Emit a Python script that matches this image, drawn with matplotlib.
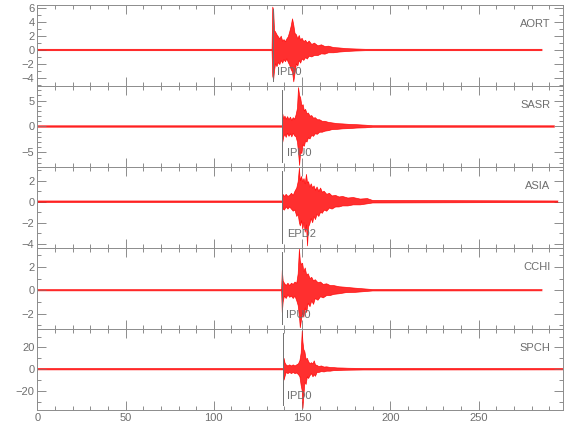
import matplotlib
matplotlib.use("Agg")
import matplotlib.pyplot as plt
from matplotlib.ticker import MultipleLocator

plt.rcParams['font.family'] = ['Liberation Sans', 'DejaVu Sans']

stations = ["AORT", "SASR", "ASIA", "CCHI", "SPCH"]
pick_labels = ["IPD0", "IPU0", "EPD2", "IPU0", "IPD0"]
pick_times = [133.4, 138.9, 138.9, 138.6, 139.2]

# envelope of each trace (time in s, upper and lower amplitude)
aort_t = [0, 133.0, 133.4, 133.9, 134.4, 135.0, 135.8, 136.6, 137.4, 138.2, 139.0, 139.8, 140.6, 141.4, 142.2,
          143.0, 143.8, 144.6, 145.3, 146.0, 146.8, 147.6, 148.4, 149.2, 150.0, 151, 152, 153, 154, 155.5,
          157, 159, 161, 163, 165, 168, 171, 175, 180, 186, 286]
aort_hi = [0.1, 0.1, 6.2, 5.8, 2.8, 2.6, 2.2, 1.9, 1.6, 2.0, 1.3, 1.5, 1.2, 1.6, 1.9,
           2.6, 3.4, 4.5, 3.6, 2.4, 2.2, 1.6, 2.1, 1.4, 1.7, 1.2, 1.4, 1.0, 1.3, 0.8,
           1.0, 0.6, 0.75, 0.5, 0.55, 0.35, 0.3, 0.2, 0.15, 0.1, 0.1]
aort_lo = [-0.1, -0.1, -3.8, -4.3, -3.0, -2.0, -2.4, -1.8, -2.1, -1.5, -1.9, -1.4, -1.7, -1.3, -1.8,
           -2.2, -2.8, -3.2, -4.6, -3.4, -2.0, -2.3, -1.5, -1.9, -1.3, -1.5, -1.1, -1.3, -0.9, -1.0,
           -0.8, -0.8, -0.55, -0.6, -0.4, -0.4, -0.3, -0.22, -0.15, -0.1, -0.1]

sasr_t = [0, 138.8, 139.1, 139.6, 140.3, 141.0, 141.8, 142.6, 143.4, 144.2, 145.0, 145.8, 146.6, 147.4,
          148.0, 148.6, 149.2, 149.9, 150.6, 151.3, 152.0, 152.8, 153.6, 154.5, 155.5, 156.5, 157.5,
          158.7, 160, 161.5, 163, 165, 167, 170, 173, 177, 181, 186, 190, 293]
sasr_hi = [0.13, 0.13, 2.4, 1.5, 2.0, 1.4, 1.9, 1.3, 1.8, 1.2, 1.7, 1.4, 2.2, 3.5,
           7.5, 6.0, 5.5, 4.0, 4.2, 3.0, 3.3, 2.5, 2.6, 2.0, 2.1, 1.6, 1.7,
           1.3, 1.3, 1.0, 1.0, 0.8, 0.7, 0.55, 0.5, 0.4, 0.35, 0.25, 0.15, 0.13]
sasr_lo = [-0.13, -0.13, -3.0, -2.0, -1.5, -2.1, -1.3, -1.9, -1.4, -2.0, -1.3, -1.8, -2.0, -3.0,
           -5.0, -7.5, -5.0, -5.2, -3.5, -3.8, -2.8, -3.0, -2.2, -2.4, -1.7, -1.9, -1.4,
           -1.5, -1.1, -1.1, -0.9, -0.8, -0.6, -0.55, -0.45, -0.4, -0.3, -0.25, -0.15, -0.13]

asia_t = [0, 138.8, 139.2, 140.0, 141.0, 142.0, 143.0, 144.0, 145.0, 146.0, 147.0, 147.8, 148.5, 149.0,
          149.7, 150.4, 151.1, 151.8, 152.5, 153.1, 153.7, 154.4, 155.2, 156.0, 156.8, 157.6, 158.5,
          159.5, 160.5, 161.5, 162.5, 164, 165.5, 167, 169, 171, 173, 176, 179, 183, 187, 190, 295]
asia_hi = [0.07, 0.07, 0.7, 0.5, 0.7, 0.5, 0.6, 0.8, 0.6, 1.0, 1.3, 1.9, 3.2, 2.0,
           2.4, 1.9, 2.2, 1.7, 2.6, 1.8, 1.9, 1.4, 1.7, 1.3, 1.5, 1.1, 1.4,
           1.0, 1.3, 0.9, 1.0, 0.7, 0.8, 0.55, 0.6, 0.45, 0.5, 0.35, 0.4, 0.25, 0.3, 0.12, 0.07]
asia_lo = [-0.07, -0.07, -0.7, -0.8, -0.5, -0.7, -0.5, -0.7, -0.9, -0.8, -1.4, -1.2, -2.0, -2.3,
           -1.8, -2.6, -2.0, -2.9, -2.2, -4.2, -2.4, -2.1, -1.6, -2.0, -1.4, -1.7, -1.2,
           -1.4, -1.0, -1.1, -0.8, -0.9, -0.6, -0.7, -0.5, -0.5, -0.4, -0.4, -0.3, -0.3, -0.2, -0.12, -0.07]

cchi_t = [0, 138.4, 138.8, 139.3, 140.0, 141.0, 142.0, 143.0, 144.0, 145.0, 146.0, 147.0, 147.8, 148.5,
          149.0, 149.6, 150.3, 151.0, 151.8, 152.6, 153.5, 154.5, 155.5, 156.5, 157.5, 159, 160.5, 162,
          164, 166, 168, 171, 175, 180, 185, 190, 286]
cchi_hi = [0.05, 0.05, 1.7, 0.8, 0.6, 0.4, 0.6, 0.4, 0.6, 0.5, 0.7, 0.6, 1.4, 3.5,
           2.5, 2.2, 2.3, 1.6, 1.9, 1.3, 1.4, 1.0, 1.1, 0.8, 0.9, 0.65, 0.7, 0.5,
           0.55, 0.4, 0.4, 0.3, 0.25, 0.18, 0.12, 0.06, 0.05]
cchi_lo = [-0.05, -0.05, -1.9, -1.0, -0.5, -0.7, -0.4, -0.6, -0.5, -0.7, -0.5, -0.9, -1.3, -2.2,
           -3.2, -2.6, -1.9, -2.3, -1.5, -1.9, -1.1, -1.4, -0.9, -1.2, -0.7, -0.85, -0.55, -0.65,
           -0.45, -0.45, -0.35, -0.3, -0.2, -0.18, -0.12, -0.06, -0.05]

spch_t = [0, 139.4, 139.8, 140.3, 141.0, 142.0, 143.0, 144.0, 145.0, 146.0, 147.0, 148.0, 148.8, 149.5,
          150.1, 150.5, 151.0, 151.6, 152.3, 153.0, 153.7, 154.5, 155.3, 156.2, 156.9, 157.6, 158.5,
          159.5, 161, 162.5, 164, 166, 168, 170, 173, 176, 180, 185, 298]
spch_hi = [0.6, 0.6, 10, 6, 4, 3, 4, 3, 4, 3, 4, 5, 8, 15,
           35, 25, 18, 16, 9, 10, 7, 5, 6, 5, 7.7, 4, 3.5,
           2.5, 3, 2, 2.2, 1.6, 1.5, 1.2, 1.1, 0.9, 0.8, 0.7, 0.6]
spch_lo = [-0.6, -0.6, -10, -7, -3, -4, -3, -4, -3, -4, -3.5, -5, -7, -15,
           -20, -36, -25, -12, -14, -7, -8.5, -6, -4, -7, -5, -6.5, -3,
           -3, -2.2, -2.5, -1.8, -1.8, -1.3, -1.3, -1.0, -0.9, -0.8, -0.7, -0.6]

traces = [(aort_t, aort_hi, aort_lo), (sasr_t, sasr_hi, sasr_lo), (asia_t, asia_hi, asia_lo),
          (cchi_t, cchi_hi, cchi_lo), (spch_t, spch_hi, spch_lo)]

ylims = [(-5.2, 6.5), (-7.8, 7.8), (-4.4, 3.3), (-3.3, 3.6), (-37.5, 37.0)]
ymajor = [2, 5, 2, 2, 20]
yminor = [1, 1, 1, 1, 10]

xticks = [0, 50, 100, 150, 200, 250]

GREY = '#8c8c8c'
TXT = '#6e6e6e'

fig = plt.figure(figsize=(5.8, 4.4), dpi=100)
left, right = 37.3 / 580, 563.3 / 580
top_px, bot_px = 5, 410
ph = (bot_px - top_px) / 5

for i, name in enumerate(stations):
    y0 = 1 - (top_px + (i + 1) * ph) / 440
    ax = fig.add_axes([left, y0, right - left, ph / 440])
    t, hi, lo = traces[i]
    ax.fill_between(t, lo, hi, facecolor='#ff0a0a', alpha=0.85, lw=0)
    ax.plot(t, hi, color='red', lw=0.5, alpha=0.9)
    ax.plot(t, lo, color='red', lw=0.5, alpha=0.9)
    ax.axvline(pick_times[i], ymin=0.06, ymax=0.95, color='#707070', lw=0.7, zorder=5)
    ax.annotate(pick_labels[i], xy=(pick_times[i], 0.17), xycoords=('data', 'axes fraction'),
                xytext=(3, 0), textcoords='offset points', ha='left', va='center',
                fontsize=8, color=TXT, zorder=6)
    ax.text(0.975, 0.76, name, transform=ax.transAxes, ha='right', va='center',
            fontsize=8, color=TXT)
    ax.set_xlim(0, 298)
    ax.set_ylim(*ylims[i])
    ax.set_xticks(xticks)
    ax.xaxis.set_minor_locator(MultipleLocator(10))
    ax.yaxis.set_major_locator(MultipleLocator(ymajor[i]))
    ax.yaxis.set_minor_locator(MultipleLocator(yminor[i]))
    ax.tick_params(which='both', direction='in', top=True, right=True, colors=GREY,
                   labelcolor=TXT, labelsize=8, width=0.7)
    ax.tick_params(which='major', length=6.5, pad=2)
    ax.tick_params(which='minor', length=3.2)
    if i < 4:
        ax.tick_params(labelbottom=False)
    for sp in ax.spines.values():
        sp.set_color(GREY)
        sp.set_linewidth(0.7)

fig.savefig("out.png", dpi=100)
